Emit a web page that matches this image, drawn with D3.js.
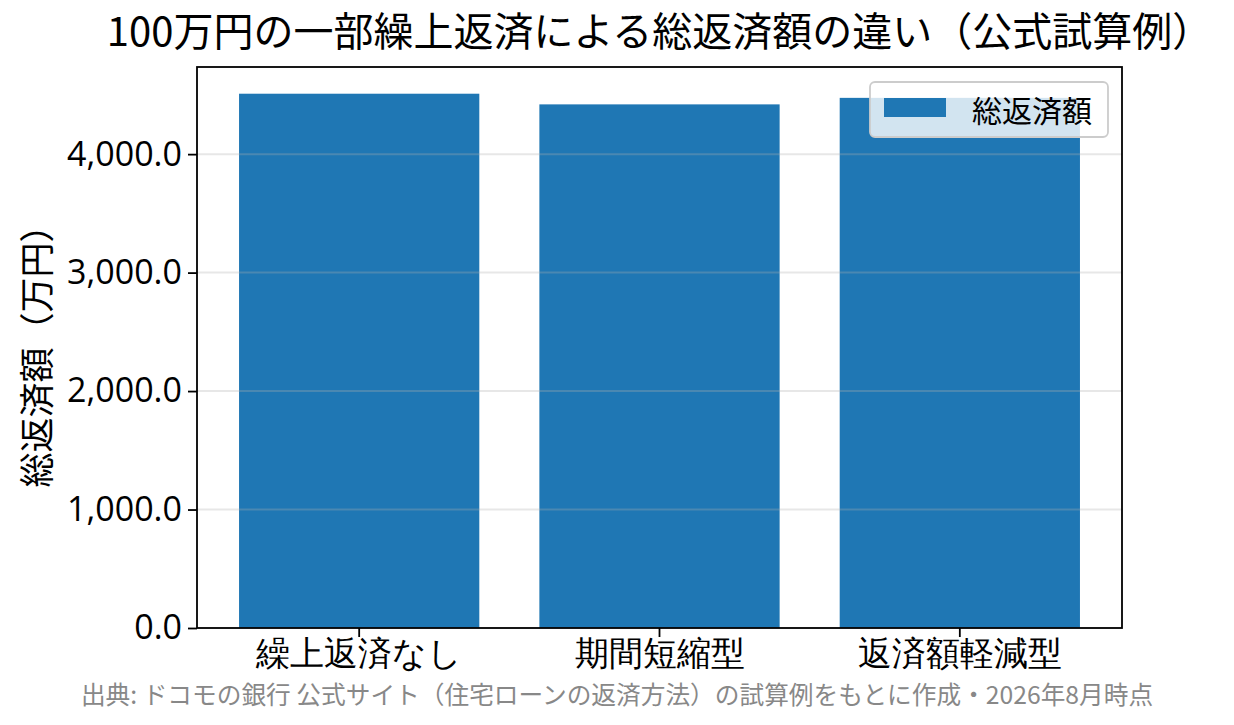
<!DOCTYPE html>
<html>
<head>
<meta charset="utf-8">
<script src="https://cdn.jsdelivr.net/npm/d3@7"></script>
<style>
  body { margin: 0; background: #fff; }
  svg { display: block; font-family: "Noto Sans CJK JP", "Noto Sans", sans-serif; }
</style>
</head>
<body>
<div id="chart"></div>
<script>
// data (万円)
const categories = ["繰上返済なし", "期間短縮型", "返済額軽減型"];
const totals = [4510, 4420, 4475];
const yTicks = [0, 1000, 2000, 3000, 4000];
const seriesName = "総返済額";
const titleText = "100万円の一部繰上返済による総返済額の違い（公式試算例）";
const yLabel = "総返済額（万円）";
const sourceText = "出典: ドコモの銀行 公式サイト（住宅ローンの返済方法）の試算例をもとに作成・2026年8月時点";

const W = 1234, H = 725;
const margin = { top: 67, right: 112, bottom: 97, left: 197 };
const width = W - margin.left - margin.right,
      height = H - margin.top - margin.bottom;

const svg = d3.select("#chart").append("svg")
    .attr("width", W)
    .attr("height", H);

const g = svg.append("g")
    .attr("transform", "translate(" + margin.left + "," + margin.top + ")");

const rows = categories.map((c, i) => ({ cat: c, v: totals[i] }));

// x: band scale, padding mimics matplotlib bar width 0.8 + 5% margins
const x = d3.scaleBand()
    .domain(categories)
    .range([0, width])
    .paddingInner(0.2)
    .paddingOuter(0.14);

const y = d3.scaleLinear()
    .domain([0, d3.max(totals) * 1.05])
    .range([height, 0]);

// bars
g.selectAll("rect.bar")
    .data(rows)
    .enter()
    .append("rect")
    .attr("class", "bar")
    .attr("x", d => x(d.cat))
    .attr("y", d => y(d.v))
    .attr("width", x.bandwidth())
    .attr("height", d => height - y(d.v))
    .style("fill", "#1f77b4");

// grid on top of bars (semi transparent)
g.append("g")
    .selectAll("line")
    .data(yTicks)
    .enter()
    .append("line")
    .attr("x1", 0)
    .attr("x2", width)
    .attr("y1", d => y(d))
    .attr("y2", d => y(d))
    .attr("stroke", "#b0b0b0")
    .attr("stroke-opacity", 0.3)
    .attr("stroke-width", 2);

// y axis
const yAxis = g.append("g")
    .call(d3.axisLeft(y).tickValues(yTicks).tickFormat(d3.format(",.1f")).tickSize(9).tickPadding(6));
yAxis.select(".domain").remove();
yAxis.selectAll(".tick line").attr("stroke", "#000").attr("stroke-width", 1.8);
yAxis.selectAll("text")
    .style("font-family", "'Open Sans', 'Noto Sans CJK JP', sans-serif")
    .style("font-size", "34px")
    .attr("fill", "#000");

// x axis
const xAxis = g.append("g")
    .attr("transform", "translate(0," + height + ")")
    .call(d3.axisBottom(x).tickSize(9).tickPadding(4));
xAxis.select(".domain").remove();
xAxis.selectAll(".tick line").attr("stroke", "#000").attr("stroke-width", 1.8);
xAxis.selectAll("text")
    .style("font-size", "34px")
    .attr("fill", "#000");

// frame
g.append("rect")
    .attr("x", 0).attr("y", 0)
    .attr("width", width).attr("height", height)
    .attr("fill", "none")
    .attr("stroke", "#000")
    .attr("stroke-width", 1.8);

// legend
const leg = g.append("g")
    .attr("transform", "translate(" + (width - 252) + ",15)");
leg.append("rect")
    .attr("width", 238).attr("height", 55)
    .attr("rx", 5)
    .attr("fill", "#fff").attr("fill-opacity", 0.8)
    .attr("stroke", "#cccccc").attr("stroke-width", 1.8);
leg.append("rect")
    .attr("x", 14).attr("y", 16)
    .attr("width", 62).attr("height", 19)
    .style("fill", "#1f77b4");
leg.append("text")
    .attr("x", 102).attr("y", 27)
    .attr("dominant-baseline", "central")
    .style("font-size", "30px")
    .text(seriesName);

// title
svg.append("text")
    .attr("x", margin.left + width / 2)
    .attr("y", 46)
    .attr("text-anchor", "middle")
    .style("font-size", "40px")
    .text(titleText);

// y label
svg.append("text")
    .attr("transform", "translate(50," + (margin.top + height / 2) + ") rotate(-90)")
    .attr("text-anchor", "middle")
    .style("font-size", "35px")
    .text(yLabel);

// source
svg.append("text")
    .attr("x", W / 2)
    .attr("y", 704)
    .attr("text-anchor", "middle")
    .style("font-size", "24.7px")
    .attr("fill", "#888888")
    .text(sourceText);
</script>
</body>
</html>
